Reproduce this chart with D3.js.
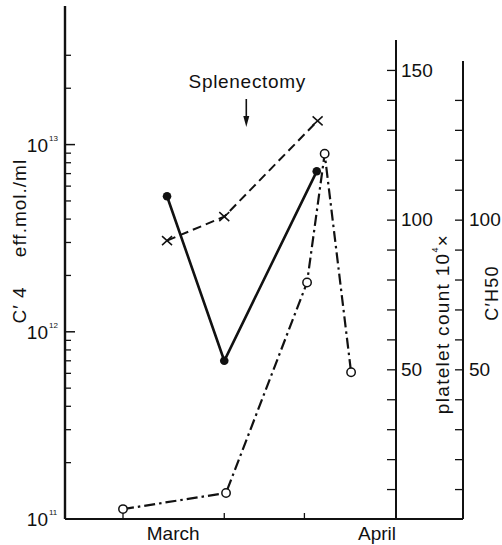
<!DOCTYPE html>
<html>
<head>
<meta charset="utf-8">
<script src="https://cdn.jsdelivr.net/npm/d3@7"></script>
<style>
  body { margin: 0; background: #fff; }
  text { font-family: "Liberation Sans", Arial, sans-serif; fill: #111; }
</style>
</head>
<body>
<svg id="chart" width="502" height="545"></svg>
<script>
// Time is counted in days from the start of March (1 = 1 March, 32 = 1 April).
const c4Days = [6, 12.5, 23];
const c4Values = [5.3e12, 7.0e11, 7.2e12];          // C'4, eff. mol./ml
const plateletDays = [6, 12.5, 23.1];
const plateletValues = [93, 101, 133];              // platelet count x10^4
const ch50Days = [1, 12.7, 21.9, 23.9, 26.9];
const ch50Values = [3.3, 8.7, 79, 122, 49];         // C'H50
const timeTicks = [1, 12.5, 21.6, 32];
const monthLabels = [{ name: "March", day: 6.7, anchor: "middle" }, { name: "April", day: 32, anchor: "end" }];
const splenectomyDay = 15;
const c4Decades = [1e11, 1e12, 1e13];
const c4Minor = [2e11, 3e11, 4e11, 5e11, 6e11, 7e11, 8e11, 9e11,
                 2e12, 3e12, 4e12, 5e12, 6e12, 7e12, 8e12, 9e12,
                 2e13, 3e13];
const plateletTicks = [10, 20, 30, 40, 50, 60, 70, 80, 90, 100, 110, 120, 130, 140, 150];
const plateletLabels = [50, 100, 150];
const ch50Ticks = [10, 20, 30, 40, 50, 60, 70, 80, 90, 100, 110, 120, 130, 140];
const ch50Labels = [50, 100];

const svg = d3.select("#chart");
const leftX = 65, plateletX = 396, ch50X = 463, baseY = 519;

const x = d3.scaleLinear().domain([1, 32]).range([123, 396]);
const yC4 = d3.scaleLog().domain([1e11, 5.5e13]).range([baseY, 6]);
const yPlt = d3.scaleLinear().domain([0, 160]).range([baseY, 40]);
const yCH = d3.scaleLinear().domain([0, 153]).range([baseY, 61]);

// ---- left log axis (C'4)
const leftG = svg.append("g").attr("transform", `translate(${leftX},0)`);
leftG.append("line").attr("x1", 0).attr("x2", 0).attr("y1", 6).attr("y2", baseY)
  .attr("stroke", "#111").attr("stroke-width", 2.4);
leftG.selectAll("line.minor").data(c4Minor).join("line").attr("class", "minor")
  .attr("x1", 0).attr("x2", 6).attr("y1", d => yC4(d)).attr("y2", d => yC4(d))
  .attr("stroke", "#111").attr("stroke-width", 1.3);
leftG.selectAll("line.major").data(c4Decades).join("line").attr("class", "major")
  .attr("x1", 0).attr("x2", 10).attr("y1", d => yC4(d)).attr("y2", d => yC4(d))
  .attr("stroke", "#111").attr("stroke-width", 1.5);
const decLab = leftG.selectAll("g.dec").data(c4Decades).join("g").attr("class", "dec")
  .attr("transform", d => `translate(0,${yC4(d)})`);
decLab.append("text").attr("x", -17).attr("y", 7).attr("text-anchor", "end")
  .style("font-size", "19px").text("10");
decLab.append("text").attr("x", -16).attr("y", -4).attr("text-anchor", "start")
  .style("font-size", "8px").text(d => Math.round(Math.log10(d)));

// ---- bottom time axis
svg.append("line").attr("x1", leftX).attr("x2", ch50X).attr("y1", baseY).attr("y2", baseY)
  .attr("stroke", "#111").attr("stroke-width", 2);
svg.selectAll("line.xt").data(timeTicks).join("line").attr("class", "xt")
  .attr("x1", d => x(d)).attr("x2", d => x(d)).attr("y1", baseY).attr("y2", baseY - 6)
  .attr("stroke", "#111").attr("stroke-width", 1.3);
svg.selectAll("text.month").data(monthLabels).join("text").attr("class", "month")
  .attr("x", d => x(d.day)).attr("y", 540).attr("text-anchor", d => d.anchor)
  .style("font-size", "19px").text(d => d.name);

// ---- platelet count axis
const pltG = svg.append("g").attr("transform", `translate(${plateletX},0)`);
pltG.call(d3.axisLeft(yPlt).tickValues(plateletTicks).tickSize(9).tickFormat(d => plateletLabels.includes(d) ? d : ""));
pltG.select(".domain").remove();
pltG.append("line").attr("x1", 0).attr("x2", 0).attr("y1", yPlt(160)).attr("y2", baseY)
  .attr("stroke", "#111").attr("stroke-width", 2);
pltG.selectAll(".tick line").attr("stroke", "#111").attr("stroke-width", 1.3);
pltG.selectAll(".tick text").attr("x", 5).attr("text-anchor", "start")
  .style("font-size", "19px").style("font-family", "Liberation Sans, Arial, sans-serif").attr("fill", "#111");

// ---- C'H50 axis
const chG = svg.append("g").attr("transform", `translate(${ch50X},0)`);
chG.call(d3.axisLeft(yCH).tickValues(ch50Ticks).tickSize(8).tickFormat(d => ch50Labels.includes(d) ? d : ""));
chG.select(".domain").remove();
chG.append("line").attr("x1", 0).attr("x2", 0).attr("y1", yCH(153)).attr("y2", baseY)
  .attr("stroke", "#111").attr("stroke-width", 2);
chG.selectAll(".tick line").attr("stroke", "#111").attr("stroke-width", 1.3);
chG.selectAll(".tick text").attr("x", 6).attr("text-anchor", "start")
  .style("font-size", "19px").style("font-family", "Liberation Sans, Arial, sans-serif").attr("fill", "#111");

// ---- axis titles (rotated)
function vtext(cx, cy, size, spacing) {
  return svg.append("text").attr("transform", `translate(${cx},${cy}) rotate(-90)`)
    .attr("text-anchor", "middle").attr("dominant-baseline", "central")
    .style("font-size", size + "px").style("letter-spacing", spacing + "px");
}
vtext(19, 208, 19, 1).text("eff.mol./ml");
vtext(19, 305, 19, 1).text("C\u2032 4");
const pl = vtext(442, 324, 19, 1.3);
pl.append("tspan").text("platelet count 10");
pl.append("tspan").attr("dy", -7).style("font-size", "9px").text("4");
pl.append("tspan").attr("dy", 7).text("\u00d7");
vtext(492, 293, 18, 1.2).text("C\u2032H50");

// ---- splenectomy marker
const sx = x(splenectomyDay);
svg.append("text").attr("x", sx + 1).attr("y", 88).attr("text-anchor", "middle")
  .style("font-size", "19px").style("letter-spacing", "0.7px").text("Splenectomy");
svg.append("line").attr("x1", sx).attr("x2", sx).attr("y1", 99).attr("y2", 118)
  .attr("stroke", "#111").attr("stroke-width", 1.6);
svg.append("path").attr("d", `M${sx - 3},116 L${sx + 3},116 L${sx},127 Z`).attr("fill", "#111");

// ---- series
const c4Pts = c4Days.map((d, i) => [x(d), yC4(c4Values[i])]);
const pltPts = plateletDays.map((d, i) => [x(d), yPlt(plateletValues[i])]);
const chPts = ch50Days.map((d, i) => [x(d), yCH(ch50Values[i])]);
const line = d3.line();

svg.append("path").attr("d", line(pltPts)).attr("fill", "none").attr("stroke", "#111")
  .attr("stroke-width", 2).attr("stroke-dasharray", "9,5");
svg.append("path").attr("d", line(chPts)).attr("fill", "none").attr("stroke", "#111")
  .attr("stroke-width", 2.2).attr("stroke-dasharray", "11,4,2.5,4");
svg.append("path").attr("d", line(c4Pts)).attr("fill", "none").attr("stroke", "#111")
  .attr("stroke-width", 2.6);

svg.selectAll("circle.c4").data(c4Pts).join("circle").attr("class", "c4")
  .attr("cx", d => d[0]).attr("cy", d => d[1]).attr("r", 4.3).attr("fill", "#111");
svg.selectAll("circle.ch").data(chPts).join("circle").attr("class", "ch")
  .attr("cx", d => d[0]).attr("cy", d => d[1]).attr("r", 4.2)
  .attr("fill", "#fff").attr("stroke", "#111").attr("stroke-width", 1.5);
svg.selectAll("path.cross").data(pltPts).join("path").attr("class", "cross")
  .attr("d", d => `M${d[0] - 5},${d[1] - 4.5}L${d[0] + 5},${d[1] + 4.5}M${d[0] - 5},${d[1] + 4.5}L${d[0] + 5},${d[1] - 4.5}`)
  .attr("stroke", "#111").attr("stroke-width", 1.5);
</script>
</body>
</html>
